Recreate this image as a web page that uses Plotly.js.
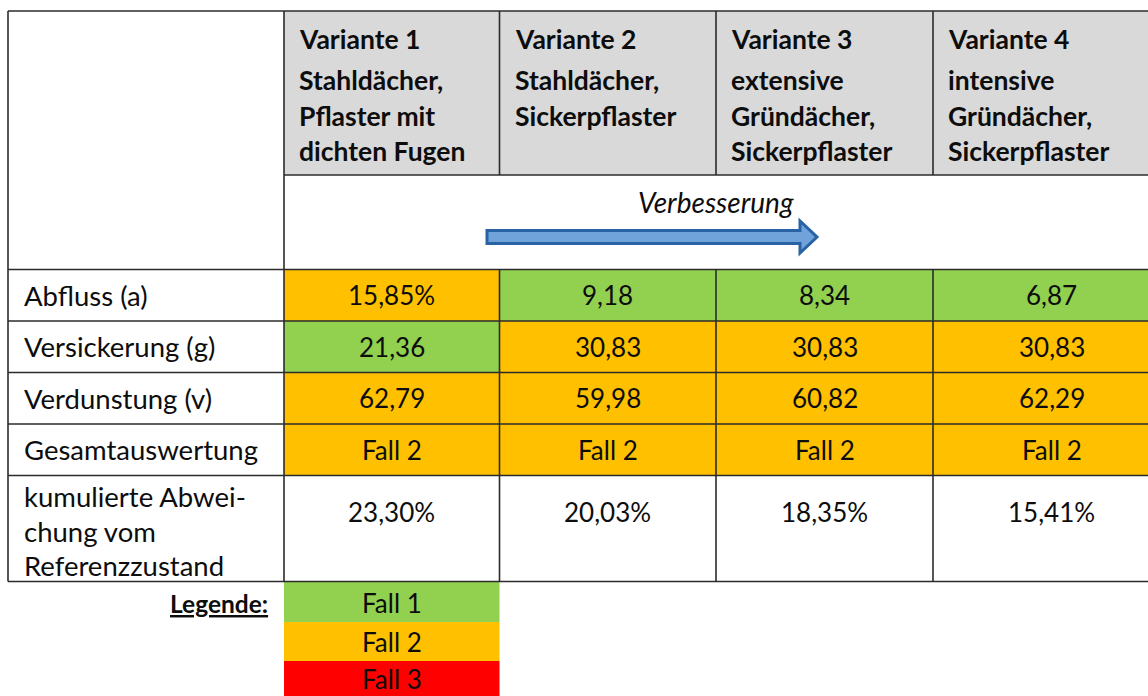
<!DOCTYPE html>
<html>
<head>
<meta charset="utf-8">
<script src="https://cdn.plot.ly/plotly-3.0.1.min.js"></script>
<style>html,body{margin:0;padding:0;background:#fff;}#chart{width:1148px;height:696px;}</style>
</head>
<body>
<div id="chart"></div>
<script>
// ---- data ----
const variants = ["Variante 1", "Variante 2", "Variante 3", "Variante 4"];
const descriptions = [
  ["Stahldächer,", "Pflaster mit", "dichten Fugen"],
  ["Stahldächer,", "Sickerpflaster"],
  ["extensive", "Gründächer,", "Sickerpflaster"],
  ["intensive", "Gründächer,", "Sickerpflaster"]
];
const improvementLabel = "Verbesserung";
const rowLabels = [
  ["Abfluss (a)"],
  ["Versickerung (g)"],
  ["Verdunstung (v)"],
  ["Gesamtauswertung"],
  ["kumulierte Abwei-", "chung vom", "Referenzzustand"]
];
const abfluss = [15.85, 9.18, 8.34, 6.87];
const abflussUnit = ["%", "", "", ""];
const versickerung = [21.36, 30.83, 30.83, 30.83];
const verdunstung = [62.79, 59.98, 60.82, 62.29];
const gesamtauswertung = ["Fall 2", "Fall 2", "Fall 2", "Fall 2"];
const kumulierteAbweichung = [23.30, 20.03, 18.35, 15.41];
const abflussFall = [2, 1, 1, 1];
const versickerungFall = [1, 2, 2, 2];
const verdunstungFall = [2, 2, 2, 2];
const gesamtFall = [2, 2, 2, 2];
const legendTitle = "Legende:";
const legendCases = ["Fall 1", "Fall 2", "Fall 3"];

// ---- styles / geometry ----
const caseColors = {1: "#92D050", 2: "#FFC000", 3: "#FF0000"};
const headerFill = "#D9D9D9";
const lineColor = "#2b2b2b";
const FONT = "Lato, 'Open Sans', sans-serif";
const TXT = "#0d0d0d";
const colEdges = [8, 284, 499.5, 716, 933, 1170];
const headTop = 11, headBottom = 175, arrowBottom = 269.5;
const rowEdges = [269.5, 321, 372.5, 424, 475.5, 581.5];
const legendEdges = [581.5, 622, 661, 700];
const legendTextY = [603, 642, 679];

const fmt = v => v.toFixed(2).replace(".", ",");
const cellText = [
  abfluss.map((v, i) => fmt(v) + abflussUnit[i]),
  versickerung.map(fmt),
  verdunstung.map(fmt),
  gesamtauswertung,
  kumulierteAbweichung.map(v => fmt(v) + "%")
];
const cellFall = [abflussFall, versickerungFall, verdunstungFall, gesamtFall, null];

const shapes = [];
const annotations = [];
function rect(x0, x1, y0, y1, fill) {
  shapes.push({type: "rect", xref: "x", yref: "y", x0, x1, y0, y1,
    fillcolor: fill, line: {width: 0}, layer: "below"});
}
function line(x0, y0, x1, y1) {
  shapes.push({type: "line", xref: "x", yref: "y", x0, y0, x1, y1,
    line: {color: lineColor, width: 1.6}});
}
function text(t, x, y, size, opts) {
  annotations.push(Object.assign({
    text: t, x, y, xref: "x", yref: "y", showarrow: false,
    xanchor: "center", yanchor: "middle",
    font: {family: FONT, size: size, color: TXT}
  }, opts || {}));
}

// header fills
for (let c = 0; c < variants.length; c++) {
  rect(colEdges[c + 1], colEdges[c + 2], headTop, headBottom, headerFill);
}
// data cell fills
for (let r = 0; r < cellText.length; r++) {
  if (!cellFall[r]) continue;
  for (let c = 0; c < variants.length; c++) {
    rect(colEdges[c + 1], colEdges[c + 2], rowEdges[r], rowEdges[r + 1], caseColors[cellFall[r][c]]);
  }
}
// legend fills
legendCases.forEach((lab, i) => {
  rect(colEdges[1], colEdges[2], legendEdges[i], legendEdges[i + 1], caseColors[i + 1]);
  text(lab, (colEdges[1] + colEdges[2]) / 2, legendTextY[i], 26);
});
text("<b><u>" + legendTitle + "</u></b>", 270, 603, 24.5, {xanchor: "right"});

// grid lines
const right = colEdges[colEdges.length - 1];
line(colEdges[0], headTop, right, headTop);
line(colEdges[1], headBottom, right, headBottom);
rowEdges.forEach(y => line(colEdges[0], y, right, y));
line(colEdges[0], headTop, colEdges[0], rowEdges[rowEdges.length - 1]);
line(colEdges[1], headTop, colEdges[1], rowEdges[rowEdges.length - 1]);
for (let c = 2; c < colEdges.length - 1; c++) {
  line(colEdges[c], headTop, colEdges[c], headBottom);
  line(colEdges[c], rowEdges[0], colEdges[c], rowEdges[rowEdges.length - 1]);
}

// header text
variants.forEach((v, c) => {
  const x = colEdges[c + 1] + 13;
  text("<b>" + v + "</b>", x, 39, 26.5, {xanchor: "left"});
  descriptions[c].forEach((ln, k) => {
    text("<b>" + ln + "</b>", x, 80 + k * 35.5, 26.5, {xanchor: "left"});
  });
});

// improvement arrow
const ax0 = 487, ax1 = 800, atip = 817, ay = 237, sh = 6.5, hh = 16;
shapes.push({type: "path", xref: "x", yref: "y",
  path: `M ${ax0} ${ay - sh} L ${ax1} ${ay - sh} L ${ax1} ${ay - hh} L ${atip} ${ay} L ${ax1} ${ay + hh} L ${ax1} ${ay + sh} L ${ax0} ${ay + sh} Z`,
  fillcolor: "#6FA3DA", line: {color: "#2A62A6", width: 3}});
text("<i>" + improvementLabel + "</i>", 716, 202, 28);

// row labels and values
rowLabels.forEach((lines, r) => {
  const y0 = rowEdges[r], y1 = rowEdges[r + 1];
  if (lines.length === 1) {
    text(lines[0], 22, (y0 + y1) / 2, 27.5, {xanchor: "left"});
  } else {
    lines.forEach((ln, k) => text(ln, 22, y0 + 21 + k * 34.5, 27.5, {xanchor: "left"}));
  }
  for (let c = 0; c < variants.length; c++) {
    const cx = (colEdges[c + 1] + colEdges[c + 2]) / 2;
    const cy = lines.length === 1 ? (y0 + y1) / 2 : y0 + 36;
    text(cellText[r][c], cx, cy, 26);
  }
});

const layout = {
  width: 1148, height: 696,
  margin: {l: 0, r: 0, t: 0, b: 0},
  paper_bgcolor: "#fff", plot_bgcolor: "#fff",
  showlegend: false,
  xaxis: {range: [0, 1148], visible: false, fixedrange: true},
  yaxis: {range: [696, 0], visible: false, fixedrange: true},
  shapes, annotations
};
Plotly.newPlot("chart", [{x: [], y: [], type: "scatter", mode: "markers", hoverinfo: "skip"}], layout, {displayModeBar: false, staticPlot: true});
</script>
</body>
</html>
